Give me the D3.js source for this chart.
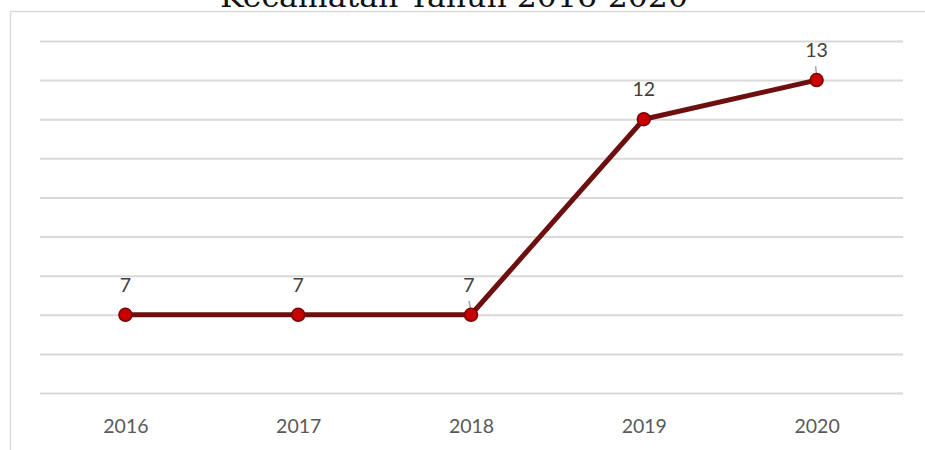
<!DOCTYPE html>
<html>
<head>
<meta charset="utf-8">
<script src="https://cdn.jsdelivr.net/npm/d3@7/dist/d3.min.js"></script>
<style>
  html, body { margin: 0; padding: 0; background: #fff; }
  svg { display: block; }
</style>
</head>
<body>
<svg id="chart" width="925" height="450"></svg>
<script>
// Yearly counts
const years = ["2016", "2017", "2018", "2019", "2020"];
const values = [7, 7, 7, 12, 13];
const gridValues = [5, 6, 7, 8, 9, 10, 11, 12, 13, 14];
const titleText = "Kecamatan Tahun 2016-2020";

const svg = d3.select("#chart");
const W = 925, H = 450;

const x = d3.scalePoint().domain(years).range([39, 903]).padding(0.5);
const y = d3.scaleLinear().domain([5, 14]).range([393, 41]);

// Chart frame
svg.append("path")
  .attr("d", `M10.5,${H} L10.5,11.5 L${W},11.5`)
  .attr("fill", "none")
  .attr("stroke", "#d9d9d9")
  .attr("stroke-width", 1.5);

// Title (partly above the frame)
svg.append("text")
  .attr("x", 454)
  .attr("y", 7)
  .attr("text-anchor", "middle")
  .attr("font-family", "'DejaVu Serif', 'Liberation Serif', serif")
  .attr("font-size", 29)
  .attr("textLength", 468)
  .attr("lengthAdjust", "spacingAndGlyphs")
  .attr("fill", "#111")
  .text(titleText);

// Horizontal gridlines
const yAxis = d3.axisLeft(y).tickValues(gridValues).tickSize(-(903 - 40)).tickFormat("");
const gy = svg.append("g").attr("transform", "translate(40,0)").call(yAxis);
gy.select(".domain").remove();
gy.selectAll(".tick line").attr("stroke", "#d9d9d9").attr("stroke-width", 2);

// Category axis labels
const xAxis = d3.axisBottom(x).tickSize(0).tickPadding(0);
const gx = svg.append("g").attr("transform", "translate(0,433)").call(xAxis);
gx.select(".domain").remove();
gx.selectAll(".tick text")
  .attr("dy", 0)
  .attr("font-family", "Lato, 'Open Sans', sans-serif")
  .attr("font-size", 19.5)
  .attr("fill", "#595959");

const data = years.map((yr, i) => ({ year: yr, value: values[i] }));

// Series line
const line = d3.line().x(d => x(d.year)).y(d => y(d.value));
svg.append("path")
  .datum(data)
  .attr("d", line)
  .attr("fill", "none")
  .attr("stroke", "#6e0f0f")
  .attr("stroke-width", 5)
  .attr("stroke-linejoin", "round");

// Leader lines for shifted labels
const leaders = [{ year: "2018", dx: -2 }, { year: "2020", dx: -1 }];
leaders.forEach(l => {
  const d = data.find(e => e.year === l.year);
  svg.append("line")
    .attr("x1", x(d.year) + l.dx).attr("y1", y(d.value) - 14)
    .attr("x2", x(d.year)).attr("y2", y(d.value) - 4)
    .attr("stroke", "#a6a6a6")
    .attr("stroke-width", 1.5);
});

// Markers
svg.selectAll("circle.pt")
  .data(data)
  .enter().append("circle")
  .attr("class", "pt")
  .attr("cx", d => x(d.year))
  .attr("cy", d => y(d.value))
  .attr("r", 6.5)
  .attr("fill", "#c80000")
  .attr("stroke", "#7a0505")
  .attr("stroke-width", 1.5);

// Value labels
svg.selectAll("text.val")
  .data(data)
  .enter().append("text")
  .attr("class", "val")
  .attr("x", d => x(d.year) - (d.year === "2018" ? 2 : 0))
  .attr("y", d => y(d.value) - 23)
  .attr("text-anchor", "middle")
  .attr("font-family", "Lato, 'Open Sans', sans-serif")
  .attr("font-size", 19.5)
  .attr("fill", "#404040")
  .text(d => d.value);
</script>
</body>
</html>
